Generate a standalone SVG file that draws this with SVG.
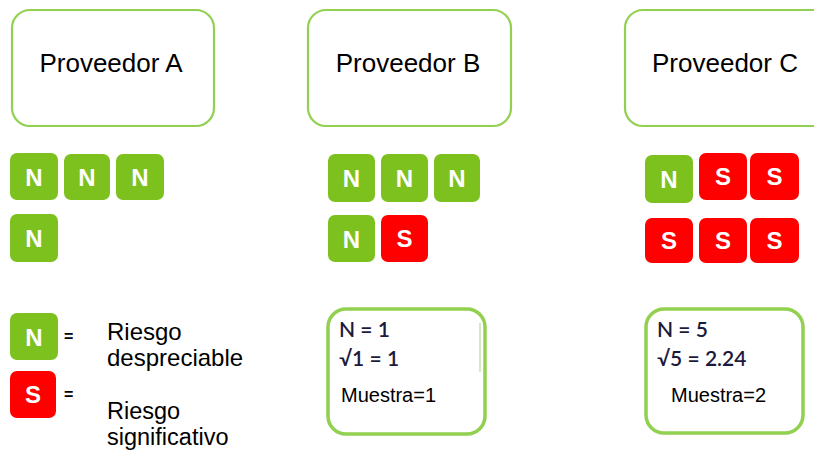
<svg xmlns="http://www.w3.org/2000/svg" width="814" height="450" viewBox="0 0 814 450">
<style>
.box{fill:#fff;stroke:#92D050;stroke-width:2.2}
.sbox{fill:#fff;stroke:#92D050;stroke-width:3.5}
.t{font-family:"Liberation Sans",Arial,sans-serif;fill:#000}
.g{fill:#7DC11F}
.r{fill:#FF0000}
.tl{font-family:"Liberation Sans",Arial,sans-serif;font-weight:bold;fill:#fff;text-anchor:middle}
.c{font-family:Lato,"Open Sans",sans-serif;fill:#1c1a3c;font-size:21px;font-weight:600}
</style>
<defs>
<clipPath id="clipL1"><rect x="100" y="315" width="160" height="57"/></clipPath>
</defs>
<rect width="814" height="450" fill="#fff"/>

<g id="proveedorA">
<rect class="box" x="12" y="10" width="202" height="116" rx="18"/>
<text class="t" x="111" y="72" font-size="26" text-anchor="middle">Proveedor A</text>
</g>
<g id="proveedorB">
<rect class="box" x="308" y="10" width="203" height="116" rx="18"/>
<text class="t" x="408" y="72" font-size="26" text-anchor="middle">Proveedor B</text>
</g>
<g id="proveedorC">
<rect class="box" x="625" y="10" width="210" height="116" rx="18"/>
<text class="t" x="725" y="72" font-size="26" text-anchor="middle">Proveedor C</text>
</g>

<g id="tilesA">
<rect class="g" x="10" y="153" width="48" height="47" rx="7"/><text class="tl" x="34" y="186" font-size="24">N</text>
<rect class="g" x="64" y="154" width="46" height="46" rx="7"/><text class="tl" x="87" y="186" font-size="24">N</text>
<rect class="g" x="116" y="154" width="48" height="46" rx="7"/><text class="tl" x="140" y="186" font-size="24">N</text>
<rect class="g" x="10" y="214" width="48" height="48" rx="7"/><text class="tl" x="34" y="247" font-size="24">N</text>
</g>
<g id="tilesB">
<rect class="g" x="328" y="154" width="47" height="48" rx="7"/><text class="tl" x="351.5" y="187" font-size="24">N</text>
<rect class="g" x="381" y="154" width="47" height="48" rx="7"/><text class="tl" x="404.5" y="187" font-size="24">N</text>
<rect class="g" x="434" y="154" width="46" height="48" rx="7"/><text class="tl" x="457" y="187" font-size="24">N</text>
<rect class="g" x="328" y="215" width="47" height="47" rx="7"/><text class="tl" x="351.5" y="248" font-size="24">N</text>
<rect class="r" x="381" y="215" width="47" height="47" rx="7"/><text class="tl" x="404.5" y="247" font-size="24">S</text>
</g>
<g id="tilesC">
<rect class="g" x="645" y="155" width="48" height="48" rx="7"/><text class="tl" x="669" y="188" font-size="24">N</text>
<rect class="r" x="699" y="153" width="48" height="47" rx="7"/><text class="tl" x="723" y="185" font-size="24">S</text>
<rect class="r" x="750" y="153" width="49" height="47" rx="7"/><text class="tl" x="774.5" y="185" font-size="24">S</text>
<rect class="r" x="645" y="218" width="48" height="45" rx="7"/><text class="tl" x="669" y="249" font-size="24">S</text>
<rect class="r" x="699" y="218" width="48" height="45" rx="7"/><text class="tl" x="723" y="249" font-size="24">S</text>
<rect class="r" x="750" y="218" width="49" height="45" rx="7"/><text class="tl" x="774.5" y="249" font-size="24">S</text>
</g>

<g id="legend">
<rect class="g" x="10" y="313" width="48" height="47" rx="7"/><text class="tl" x="34" y="346" font-size="24">N</text>
<text class="t" x="64" y="342" font-size="16" font-weight="bold" fill="#223">=</text>
<rect class="r" x="10" y="371" width="46" height="47" rx="7"/><text class="tl" x="33" y="403" font-size="24">S</text>
<text class="t" x="64" y="400" font-size="16" font-weight="bold" fill="#223">=</text>
<g clip-path="url(#clipL1)">
<text class="t" x="107" y="340" font-size="24">Riesgo</text>
<text class="t" x="107" y="366" font-size="24">despreciable</text>
</g>
<text class="t" x="107" y="419" font-size="23.5">Riesgo</text>
<text class="t" x="107" y="445" font-size="23.5">significativo</text>
</g>

<g id="muestraB">
<rect class="sbox" x="328" y="309" width="157" height="125" rx="18"/>
<line x1="480" y1="323" x2="480" y2="372" stroke="#c9dfb3" stroke-width="1.5"/>
<text class="c" x="339" y="337">N = 1</text>
<text class="c" x="339" y="366">√1 = 1</text>
<text class="t" x="341" y="402" font-size="20">Muestra=1</text>
</g>
<g id="muestraC">
<rect class="sbox" x="646" y="309" width="157" height="124" rx="18"/>
<text class="c" x="657" y="337">N = 5</text>
<text class="c" x="657" y="366">√5 = 2.24</text>
<text class="t" x="671" y="402" font-size="20">Muestra=2</text>
</g>
</svg>
